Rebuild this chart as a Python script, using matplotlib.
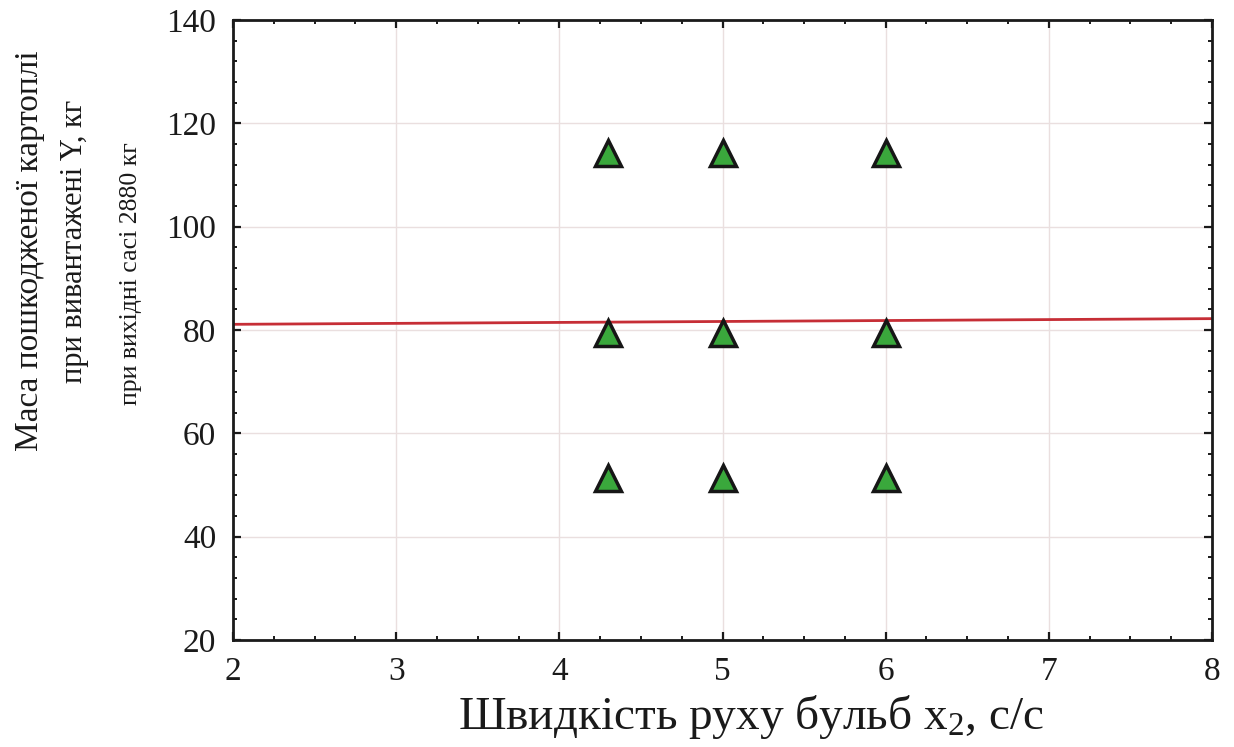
import matplotlib
matplotlib.use('Agg')
import matplotlib.pyplot as plt
from matplotlib.ticker import MultipleLocator

plt.rcParams['font.family'] = ['Liberation Serif', 'DejaVu Serif']
plt.rcParams['mathtext.fontset'] = 'custom'
plt.rcParams['mathtext.rm'] = 'Liberation Serif'
plt.rcParams['mathtext.it'] = 'Liberation Serif:italic'

# experimental points: bulb speed x2 and damaged mass Y
speed = [4.3, 5.0, 6.0, 4.3, 5.0, 6.0, 4.3, 5.0, 6.0]
damaged_mass = [114.2, 114.2, 114.2, 79.5, 79.5, 79.5, 51.4, 51.4, 51.4]

# fitted line across the x range
fit_x = [2, 8]
fit_y = [81.1, 82.2]

x_ticks = [2, 3, 4, 5, 6, 7, 8]
y_ticks = [20, 40, 60, 80, 100, 120, 140]

fig = plt.figure(figsize=(12.34, 7.47), dpi=100)
ax = fig.add_axes([233 / 1234, 1 - 640 / 747, (1212 - 233) / 1234, 620 / 747])

ax.grid(True, color='#eadfdf', lw=1.0, zorder=0)
ax.plot(fit_x, fit_y, color='#c62e36', lw=2.0, zorder=2)
ax.plot(speed, damaged_mass, ls='none', marker='^', markersize=19,
        markerfacecolor='#3aa83c', markeredgecolor='#161616',
        markeredgewidth=2.5, zorder=3)

ax.set_xlim(2, 8)
ax.set_ylim(20, 140)
ax.set_xticks(x_ticks)
ax.set_yticks(y_ticks)
ax.xaxis.set_minor_locator(MultipleLocator(0.25))
ax.yaxis.set_minor_locator(MultipleLocator(4))
ax.tick_params(which='both', direction='in', top=True, right=True,
               labelsize=24, pad=12, colors='#1a1a1a')
ax.tick_params(which='major', length=6, width=1.6)
ax.tick_params(which='minor', length=3, width=1.4)
for s in ax.spines.values():
    s.set_linewidth(2.0)
    s.set_color('#1a1a1a')

fig.text(751 / 1234, 1 - 717 / 747, r'Швидкість руху бульб $\mathrm{x}_{2}$, с/с',
         fontsize=34, ha='center', va='center', color='#1a1a1a')
fig.text(30 / 1234, 1 - 251 / 747, 'Маса пошкодженої картоплі',
         fontsize=24, rotation=90, ha='center', va='center', color='#1a1a1a')
fig.text(75 / 1234, 1 - 241 / 747, 'при вивантажені Y, кг',
         fontsize=22, rotation=90, ha='center', va='center', color='#1a1a1a')
fig.text(131 / 1234, 1 - 274 / 747, 'при вихідні сасі 2880 кг',
         fontsize=18.5, rotation=90, ha='center', va='center', color='#1a1a1a')

fig.savefig('out.png', dpi=100)
